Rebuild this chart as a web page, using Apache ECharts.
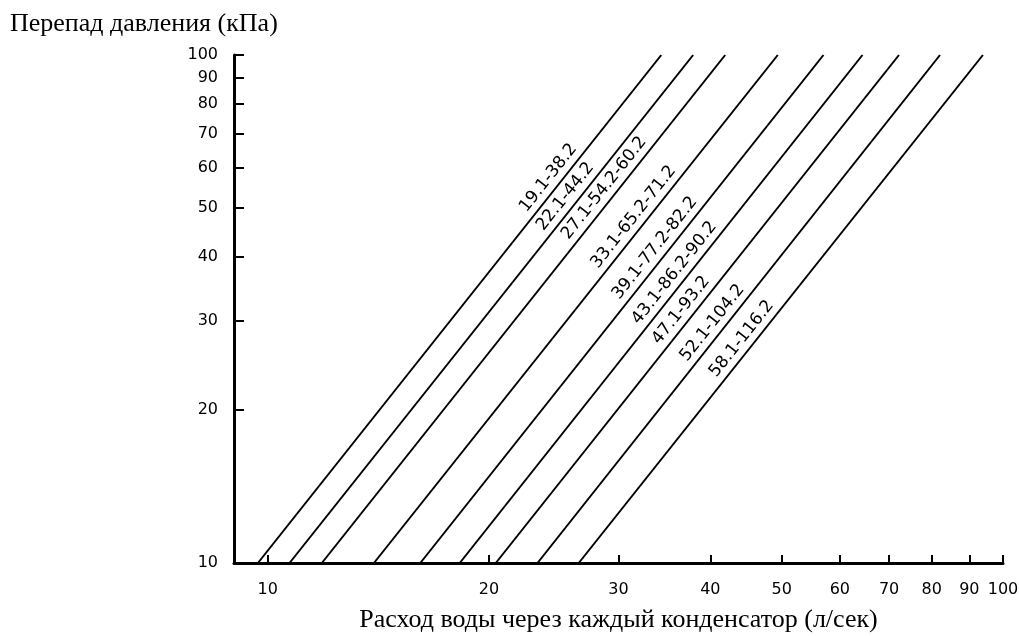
<!DOCTYPE html>
<html>
<head>
<meta charset="utf-8">
<script src="https://cdn.jsdelivr.net/npm/echarts@6/dist/echarts.min.js"></script>
<style>
html,body{margin:0;padding:0;background:#fff;}
#chart{width:1019px;height:636px;}
</style>
</head>
<body>
<div id="chart"></div>
<script>
// ---- data ----
const models = ["19.1-38.2", "22.1-44.2", "27.1-54.2-60.2", "33.1-65.2-71.2", "39.1-77.2-82.2",
                "43.1-86.2-90.2", "47.1-93.2", "52.1-104.2", "58.1-116.2"];
const pressureRange = [10, 100];                 // кПа at both ends of every line
const flowAtLow  = [9.70, 10.71, 11.85, 13.95, 16.13, 18.25, 20.43, 23.28, 26.49]; // л/сек at 10 кПа
const flowAtHigh = [34.3, 37.9, 41.9, 49.4, 57.0, 64.4, 72.2, 82.1, 93.9];          // л/сек at 100 кПа
const labelPressure = [55.4, 50.9, 52.9, 46.4, 40.3, 36.0, 30.4, 28.7, 26.7];       // where each label sits
const xTicks = [10, 20, 30, 40, 50, 60, 70, 80, 90, 100];
const yTicks = [10, 20, 30, 40, 50, 60, 70, 80, 90, 100];
const xMin = 9, xMax = 100, yMin = 10, yMax = 100;

const L = Math.log10;
const chart = echarts.init(document.getElementById('chart'));

const series = models.map((m, i) => ({
  name: m,
  type: 'line',
  symbol: 'none',
  silent: true,
  lineStyle: { color: '#000', width: 2 },
  data: [[L(flowAtLow[i]), L(pressureRange[0])], [L(flowAtHigh[i]), L(pressureRange[1])]]
}));

const fmt = v => String(Math.round(Math.pow(10, v)));

chart.setOption({
  animation: false,
  backgroundColor: '#fff',
  title: {
    text: 'Перепад давления (кПа)',
    left: 5, top: 6,
    textStyle: { fontFamily: 'Liberation Serif', fontSize: 26, fontWeight: 'normal', color: '#000' }
  },
  grid: { left: 234, right: 16, top: 55, bottom: 73, containLabel: false, outerBoundsMode: 'none' },
  xAxis: {
    type: 'value',
    min: L(xMin), max: L(xMax),
    name: 'Расход воды через каждый конденсатор (л/сек)',
    nameLocation: 'middle',
    nameGap: 44,
    nameTextStyle: { fontFamily: 'Liberation Serif', fontSize: 26, color: '#000' },
    axisLine: { show: true, lineStyle: { color: '#000', width: 3 } },
    axisTick: { show: true, inside: true, length: 8, lineStyle: { color: '#000', width: 2 },
                customValues: xTicks.map(L) },
    axisLabel: { show: true, margin: 19, color: '#000', fontFamily: 'DejaVu Sans', fontSize: 16,
                 customValues: xTicks.map(L), formatter: fmt },
    splitLine: { show: false }
  },
  yAxis: {
    type: 'value',
    min: L(yMin), max: L(yMax),
    axisLine: { show: true, lineStyle: { color: '#000', width: 3 } },
    axisTick: { show: true, inside: true, length: 10, lineStyle: { color: '#000', width: 2 },
                customValues: yTicks.map(L) },
    axisLabel: { show: true, margin: 16, color: '#000', fontFamily: 'DejaVu Sans', fontSize: 16,
                 customValues: yTicks.map(L), formatter: fmt },
    splitLine: { show: false }
  },
  series: series
});

// rotated labels along each line, placed through the chart's own scales
const texts = models.map((m, i) => {
  const p0 = chart.convertToPixel({ gridIndex: 0 }, [L(flowAtLow[i]), L(pressureRange[0])]);
  const p1 = chart.convertToPixel({ gridIndex: 0 }, [L(flowAtHigh[i]), L(pressureRange[1])]);
  const t = (L(labelPressure[i]) - L(pressureRange[0])) / (L(pressureRange[1]) - L(pressureRange[0]));
  const px = p0[0] + t * (p1[0] - p0[0]);
  const py = p0[1] + t * (p1[1] - p0[1]);
  const a = Math.atan2(p0[1] - p1[1], p1[0] - p0[0]);
  const off = 12;
  return {
    type: 'text',
    x: px - off * Math.sin(a),
    y: py - off * Math.cos(a),
    rotation: a,
    silent: true,
    style: { text: m, fill: '#000', font: '17px "DejaVu Sans"', align: 'center', verticalAlign: 'middle' }
  };
});
chart.setOption({ graphic: texts });
</script>
</body>
</html>
